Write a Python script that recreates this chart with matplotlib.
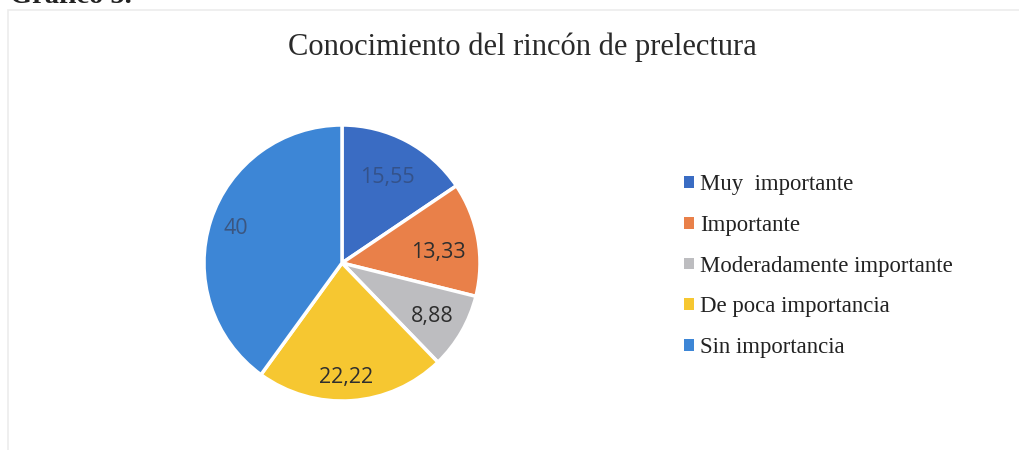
import matplotlib
matplotlib.use("Agg")
import matplotlib.pyplot as plt
from matplotlib.patches import Rectangle
import numpy as np

categories = ["Muy  importante", "Importante", "Moderadamente importante",
              "De poca importancia", "Sin importancia"]
values = [15.55, 13.33, 8.88, 22.22, 40]
value_labels = ["15,55", "13,33", "8,88", "22,22", "40"]
title = "Conocimiento del rincón de prelectura"
header = "Gráfico 5."

colors = ["#3a6cc3", "#e98049", "#bdbdc0", "#f6c731", "#3d86d6"]
label_colors = ["#34528a", "#2e2e2e", "#2e2e2e", "#2e2e2e", "#3b5680"]
label_radius = [0.70, 0.70, 0.76, 0.83, 0.81]
label_angle_shift = [0, -4, -1, -2, 0]

W, H = 1019, 450
fig = plt.figure(figsize=(W / 100, H / 100), dpi=100)
fig.patch.set_facecolor("white")

# faint frame
fig.patches.append(Rectangle((8 / W, -0.05), 1.2, (H - 10) / H + 0.05,
                             transform=fig.transFigure, fill=False,
                             edgecolor="#ececec", linewidth=1.2))

# header text (mostly cropped at the top, as in the scan)
fig.text(10 / W, 1 - 3 / H, header, fontsize=20.5, fontweight="bold",
         family="Liberation Serif", color="#222222", va="baseline", ha="left")

fig.text(522 / W, 1 - 47 / H, title, fontsize=22, family="Liberation Serif",
         color="#2a2a2a", ha="center", va="center")

cx, cy, R = 342, 263, 138
ax = fig.add_axes([(cx - R) / W, (H - cy - R) / H, 2 * R / W, 2 * R / H])
wedges, _ = ax.pie(values, colors=colors, startangle=90, counterclock=False,
                   wedgeprops=dict(edgecolor="white", linewidth=2.5))
ax.set_xlim(-1, 1)
ax.set_ylim(-1, 1)
ax.set_aspect("auto")

for w, lab, r, d, c in zip(wedges, value_labels, label_radius,
                           label_angle_shift, label_colors):
    ang = np.deg2rad((w.theta1 + w.theta2) / 2 + d)
    ax.text(r * np.cos(ang), r * np.sin(ang), lab, ha="center", va="center",
            fontsize=15.5, family="Open Sans", color=c)

# legend
handles = [Rectangle((0, 0), 1, 1, facecolor=c, edgecolor="none") for c in colors]
leg = fig.legend(handles, categories, loc="upper left",
                 bbox_to_anchor=(684 / W, 1 - 174 / H), frameon=False,
                 prop={"family": "Liberation Serif", "size": 16.4},
                 handlelength=0.42, handleheight=0.42, handletextpad=0.3,
                 labelspacing=0.87, borderaxespad=0, borderpad=0)
for t in leg.get_texts():
    t.set_color("#222222")

fig.savefig("out.png", dpi=100, facecolor="white")
